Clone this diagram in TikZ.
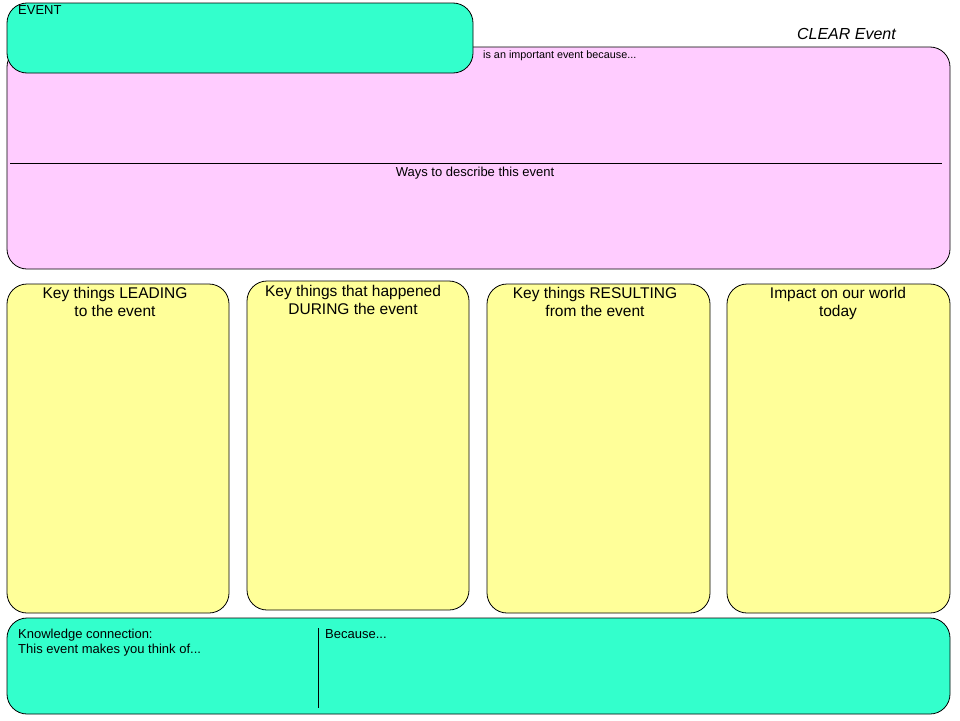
\documentclass[tikz,border=0pt]{standalone}
\usepackage{fontspec}
\setmainfont{Liberation Sans}
\usepackage{xcolor}
\definecolor{event area}{HTML}{33FFCC}
\definecolor{reason area}{HTML}{FFCCFF}
\definecolor{key area}{HTML}{FFFF99}
\colorlet{box edge}{black}
\tikzset{panel/.style={draw=box edge, rounded corners=20pt, line width=0.8pt},
    heading/.style={font=\fontsize{15.5}{18}\selectfont, align=center, anchor=north, inner sep=0pt},
    small/.style={font=\fontsize{13}{15}\selectfont, align=left, anchor=north west, inner sep=0pt}}

\begin{document}
\begin{tikzpicture}[x=1pt, y=-1pt]
    \useasboundingbox (0,0) rectangle (960,720);
    % top part
    \draw[panel, fill=reason area] (7,47) rectangle (950,269);
    \draw[panel, fill=event area]  (7,3)  rectangle (473,73);
    \node[small] (event) at (18,5) {EVENT};
    \node[small, font=\fontsize{10.8}{12}\selectfont] (because) at (483,50) {is an important event because...};
    \node[heading, font=\fontsize{16}{18}\itshape, anchor=north east] (title) at (896,28) {CLEAR Event};
    \coordinate (split west) at (10,163);
    \coordinate (split east) at (942,163);
    \draw[box edge] (split west) -- (split east);
    \node[small, anchor=north] (ways) at (475,167) {Ways to describe this event};
    % key things
    \draw[panel, fill=key area] (7,284)   rectangle (229,613);
    \draw[panel, fill=key area] (247,281) rectangle (469,610);
    \draw[panel, fill=key area] (487,284) rectangle (710,613);
    \draw[panel, fill=key area] (727,284) rectangle (950,613);
    \node[heading] (leading)   at (115,287) {Key things LEADING\\to the event};
    \node[heading] (during)    at (353,285) {Key things that happened\\DURING the event};
    \node[heading] (resulting) at (595,287) {Key things RESULTING\\from the event};
    \node[heading] (impact)    at (838,287) {Impact on our world\\today};
    % knowledge connection
    \draw[panel, fill=event area] (7,618) rectangle (950,714);
    \coordinate (gap top) at (318,628);
    \coordinate (gap bottom) at (318,708);
    \draw[box edge] (gap top) -- (gap bottom);
    \node[small] (knowledge) at (18,629) {Knowledge connection:\\This event makes you think of...};
    \node[small] (reason) at (325,629) {Because...};
\end{tikzpicture}
\end{document}
